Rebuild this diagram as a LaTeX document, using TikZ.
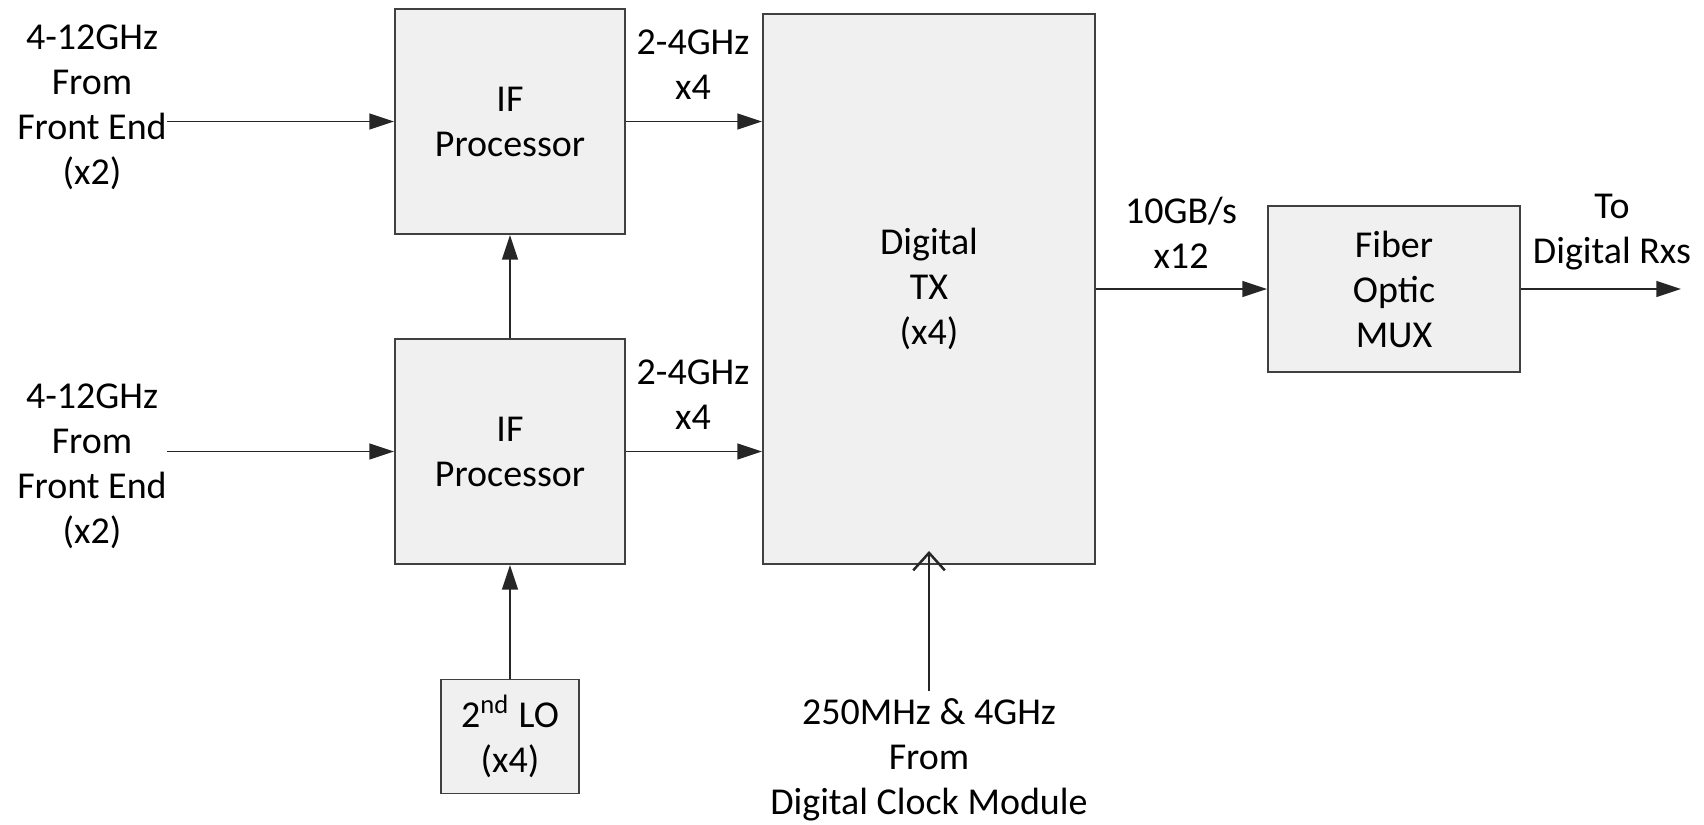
\documentclass[tikz,border=0pt]{standalone}
\usepackage{fontspec}
\setmainfont{Carlito}
\usetikzlibrary{arrows.meta,positioning}

\begin{document}
\begin{tikzpicture}[x=0.01cm, y=-0.01cm, >={Triangle[length=7pt,width=4.5pt]},
    font=\fontsize{10.8}{12.8}\selectfont]
    \tikzset{blk/.style={draw=black!75, fill=black!6, align=center, inner sep=0pt, line width=0.5pt}}
    \tikzset{lbl/.style={align=center, inner sep=0pt}}
    \tikzset{wire/.style={draw=black!85, line width=0.5pt}}
    \useasboundingbox (0,0) rectangle (1704,824);

    % blocks
    \node[blk, minimum width=2.30cm, minimum height=2.25cm] (ifa) at (510,121.5) {IF\\Processor};
    \node[blk, minimum width=2.30cm, minimum height=2.25cm] (ifb) at (510,451.5) {IF\\Processor};
    \node[blk, minimum width=1.38cm, minimum height=1.14cm] (lo) at (510,736.5) {2\textsuperscript{nd} LO\\(x4)};
    \node[blk, minimum width=3.32cm, minimum height=5.50cm] (tx) at (929,289) {Digital\\TX\\(x4)};
    \node[blk, minimum width=2.52cm, minimum height=1.66cm] (fom) at (1394,289) {Fiber\\Optic\\MUX};

    % labels
    \node[lbl] (ina) at (92,107) {4-12GHz\\From\\Front End\\(x2)};
    \node[lbl] (inb) at (92,466) {4-12GHz\\From\\Front End\\(x2)};
    \node[lbl] (lba) at (693,65) {2-4GHz\\x4};
    \node[lbl] (lbb) at (693,395) {2-4GHz\\x4};
    \node[lbl] (lbc) at (1181,233) {10GB/s\\x12};
    \node[lbl] (lbd) at (1612,232) {To\\Digital Rxs};
    \node[lbl, inner sep=2pt] (clk) at (929,760) {250MHz \& 4GHz\\From\\Digital Clock Module};
    \coordinate (out) at (1681,289);

    % connectors
    \draw[wire, ->] (ina.east |- ifa.west) -- (ifa.west);
    \draw[wire, ->] (inb.east |- ifb.west) -- (ifb.west);
    \draw[wire, ->] (ifa.east) -- (ifa.east -| tx.west);
    \draw[wire, ->] (ifb.east) -- (ifb.east -| tx.west);
    \draw[wire, ->] (ifb.north) -- (ifa.south);
    \draw[wire, ->] (lo.north) -- (ifb.south);
    \draw[wire, ->] (tx.east) -- (fom.west);
    \draw[wire, ->] (fom.east) -- (out);
    \draw[wire, -{Straight Barb[length=5pt,width=9pt,line width=0.7pt]}, shorten >=-4pt] (clk.north) -- (tx.south);
\end{tikzpicture}
\end{document}
